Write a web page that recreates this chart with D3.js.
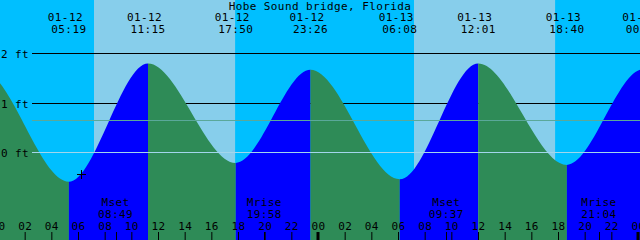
<!DOCTYPE html>
<html>
<head>
<meta charset="utf-8">
<script src="https://cdn.jsdelivr.net/npm/d3@7"></script>
<style>
  html, body { margin: 0; padding: 0; background: #fff; }
  svg { display: block; }
  text { font-family: "DejaVu Sans Mono", monospace; font-size: 11px; letter-spacing: 0.4px; fill: #000; }
</style>
</head>
<body>
<div id="chart"></div>
<script>
var title = "Hobe Sound bridge, Florida";

// high / low tides, first and last one lie outside the window
var tideTimes = ["01-11 16:50", "01-11 22:45", "01-12 05:19", "01-12 11:15", "01-12 17:50", "01-12 23:26",
                 "01-13 06:08", "01-13 12:01", "01-13 18:40", "01-14 00:24", "01-14 06:55"];
var tideHeights = [-0.25, 1.66, -0.59, 1.80, -0.21, 1.67, -0.54, 1.80, -0.25, 1.68, -0.50];

var sunriseTimes = ["01-12 07:12", "01-13 07:12"];
var sunsetTimes = ["01-12 17:47", "01-13 17:47"];

var moonEvents = ["Mset", "Mrise", "Mset", "Mrise"];
var moonTimes = ["01-12 08:49", "01-12 19:58", "01-13 09:37", "01-13 21:04"];

var depthLevels = [2, 1, 0];
var depthLabels = ["2 ft", "1 ft", "0 ft"];
var meanLevel = 0.646;

var markTime = "01-12 06:14";
var markHeight = -0.44;

var startTime = "01-12 00:09";
var endTime = "01-14 00:09";

var width = 640, height = 240;
var parse = d3.utcParse("%m-%d %H:%M");

var colors = {
    night: "#00bfff",
    day: "#87ceeb",
    flood: "#0000ff",
    ebb: "#2e8b57",
    mean: "#5aa89a",
    datum: "#a3d6ec"
};

var t0 = parse(startTime), t1 = parse(endTime);

var x = d3.scaleUtc().domain([t0, t1]).range([0, width]);
var y = d3.scaleLinear().domain([0, 2]).range([152.5, 53.5]);

function py(v) { return Math.floor(y(v)) + 0.5; } // snap to pixel row

var tides = tideTimes.map(function (d, i) {
    return { t: parse(d), h: tideHeights[i] };
});

var svg = d3.select('#chart')
    .append('svg')
    .attr('width', width)
    .attr('height', height);

// night background, then daylight on top
svg.append('rect')
    .attr('width', width)
    .attr('height', height)
    .attr('fill', colors.night);

svg.selectAll('.day')
    .data(sunriseTimes)
    .enter().append('rect')
    .attr('class', 'day')
    .attr('x', d => x(parse(d)))
    .attr('y', 0)
    .attr('width', (d, i) => x(parse(sunsetTimes[i])) - x(parse(d)))
    .attr('height', height)
    .attr('fill', colors.day);

// depth lines behind the water
svg.selectAll('.depth')
    .data(depthLevels.filter(d => d > 0))
    .enter().append('line')
    .attr('class', 'depth')
    .attr('x1', 32)
    .attr('x2', width)
    .attr('y1', d => py(d))
    .attr('y2', d => py(d))
    .attr('stroke', '#000')
    .attr('stroke-width', 1);

// water: one area, coloured by rising / falling between extremes
var area = d3.area()
    .x(d => x(d.t))
    .y0(height)
    .y1(d => y(d.h))
    .curve(d3.curveMonotoneX);

svg.append('clipPath')
    .attr('id', 'water')
    .append('path')
    .attr('d', area(tides));

svg.append('g')
    .attr('clip-path', 'url(#water)')
    .selectAll('rect')
    .data(tides.slice(1))
    .enter().append('rect')
    .attr('x', (d, i) => x(tides[i].t))
    .attr('y', 0)
    .attr('width', (d, i) => x(d.t) - x(tides[i].t))
    .attr('height', height)
    .attr('fill', (d, i) => d.h > tides[i].h ? colors.flood : colors.ebb);

// mean level and datum drawn over the water
svg.append('line')
    .attr('x1', 32).attr('x2', width)
    .attr('y1', py(meanLevel)).attr('y2', py(meanLevel))
    .attr('stroke', colors.mean);

svg.append('line')
    .attr('x1', 32).attr('x2', width)
    .attr('y1', py(0)).attr('y2', py(0))
    .attr('stroke', colors.datum);

svg.selectAll('.depthLabel')
    .data(depthLevels)
    .enter().append('text')
    .attr('class', 'depthLabel')
    .attr('x', 1)
    .attr('y', d => py(d) + 4)
    .text((d, i) => depthLabels[i]);

// title and extreme labels
svg.append('text')
    .attr('x', width / 2)
    .attr('y', 10)
    .attr('text-anchor', 'middle')
    .text(title);

var shown = tides.filter(d => x(d.t) > 0 && x(d.t) < width + 20);

svg.selectAll('.tideDate')
    .data(shown)
    .enter().append('text')
    .attr('class', 'tideDate')
    .attr('x', d => x(d.t) - 3.5)
    .attr('y', 21)
    .attr('text-anchor', 'middle')
    .text(d => d3.utcFormat('%m-%d')(d.t));

svg.selectAll('.tideTime')
    .data(shown)
    .enter().append('text')
    .attr('class', 'tideTime')
    .attr('x', d => x(d.t))
    .attr('y', 33)
    .attr('text-anchor', 'middle')
    .text(d => d3.utcFormat('%H:%M')(d.t));

// moon events
var moon = svg.selectAll('.moon')
    .data(moonTimes.map((d, i) => ({ t: parse(d), name: moonEvents[i] })))
    .enter().append('g')
    .attr('class', 'moon')
    .attr('transform', d => 'translate(' + x(d.t) + ',0)');

moon.append('text')
    .attr('y', 206)
    .attr('text-anchor', 'middle')
    .text(d => d.name);

moon.append('text')
    .attr('y', 218)
    .attr('text-anchor', 'middle')
    .text(d => d3.utcFormat('%H:%M')(d.t));

moon.append('line')
    .attr('x1', d => Math.round(x(d.t)) + 0.5 - x(d.t))
    .attr('x2', d => Math.round(x(d.t)) + 0.5 - x(d.t))
    .attr('y1', 232)
    .attr('y2', height)
    .attr('stroke', '#000');

// hour axis
var hours = d3.utcHour.every(2).range(d3.utcHour.offset(t0, -1), d3.utcHour.offset(t1, 1));

var axis = svg.append('g')
    .attr('transform', 'translate(0,' + height + ')')
    .call(d3.axisTop(x)
        .tickValues(hours)
        .tickSize(8)
        .tickPadding(2.5)
        .tickFormat(d3.utcFormat('%H')));

axis.select('.domain').remove();
axis.selectAll('line').attr('stroke', '#000');
axis.selectAll('text')
    .attr('fill', '#000')
    .style('font-family', '"DejaVu Sans Mono", monospace')
    .style('font-size', '11px');

// day boundaries
svg.selectAll('.midnight')
    .data(d3.utcDay.range(d3.utcHour.offset(t0, -1), d3.utcHour.offset(t1, 1)))
    .enter().append('rect')
    .attr('class', 'midnight')
    .attr('x', d => x(d) - 1.5)
    .attr('y', 232)
    .attr('width', 3)
    .attr('height', 8)
    .attr('fill', '#000');

// present time mark
var mx = Math.round(x(parse(markTime))), my = Math.round(y(markHeight));
svg.append('path')
    .attr('d', 'M' + (mx - 4) + ',' + (my + 0.5) + 'H' + (mx + 5) +
               'M' + (mx + 0.5) + ',' + (my - 4) + 'V' + (my + 5))
    .attr('stroke', '#000')
    .attr('fill', 'none');
</script>
</body>
</html>
